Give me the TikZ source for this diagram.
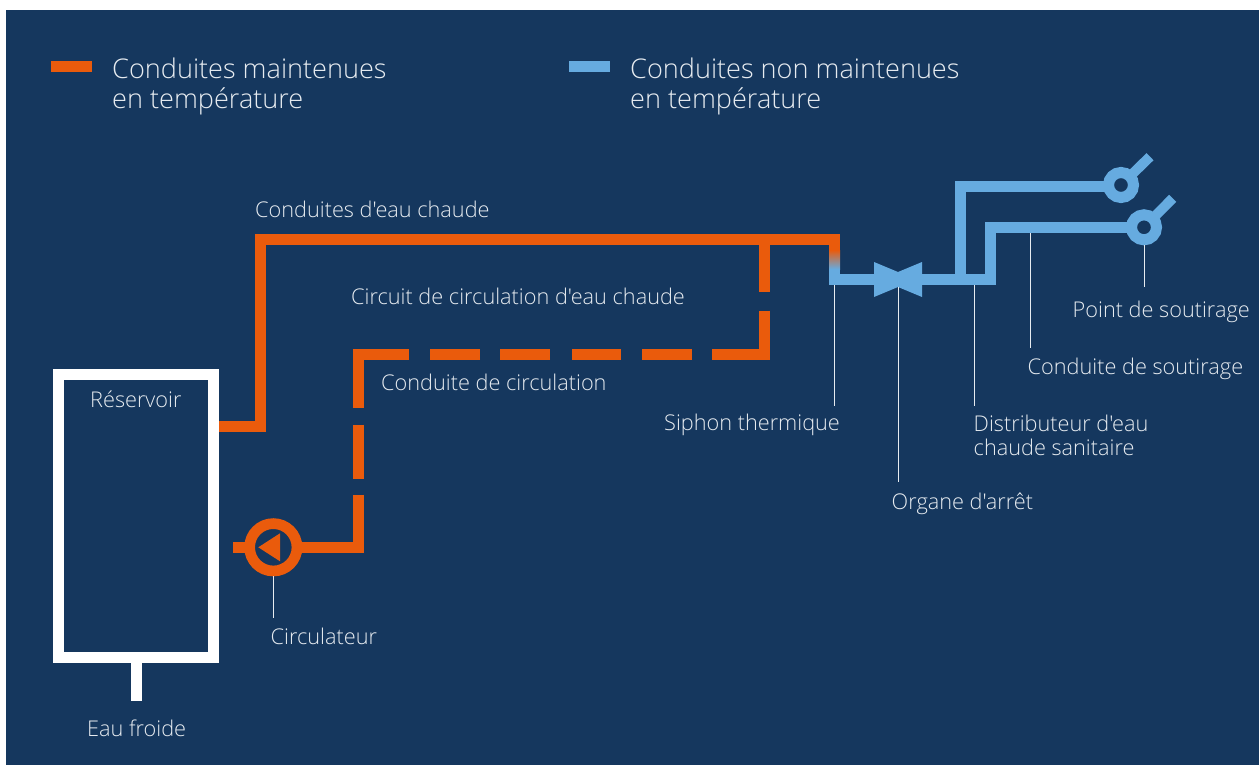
\documentclass[tikz,border=0pt]{standalone}
\usepackage{fontspec}
\setmainfont[Ligatures={NoCommon,TeXOff}]{Open Sans Light}
\definecolor{bgblue}{HTML}{15375E}
\definecolor{hotpipe}{HTML}{EA5B0C}
\definecolor{coldpipe}{HTML}{66ABE0}
\definecolor{labeltext}{HTML}{E6EBF0}
\begin{document}
\begin{tikzpicture}[x=1pt,y=-1pt]
  \newcommand{\pipewidth}[0]{11pt}
  \newcommand{\fontlabel}[0]{\fontsize{21.7}{24}\selectfont}
  \newcommand{\fontlegend}[0]{\fontsize{27.1}{30}\selectfont}

  \tikzstyle{pipe} = [
    line width=\pipewidth,
  ]
  \tikzstyle{hot} = [
    pipe,
    draw=hotpipe,
  ]
  \tikzstyle{cold} = [
    pipe,
    draw=coldpipe,
  ]
  \tikzstyle{leader} = [
    draw=labeltext,
    line width=0.8pt,
  ]
  \tikzstyle{lbl} = [
    text=labeltext,
    font=\fontlabel,
    align=left,
    inner sep=0pt,
    anchor=base west,
    yshift=-1pt,
  ]
  \tikzstyle{legendlbl} = [
    lbl,
    font=\fontlegend,
    anchor=north west,
  ]
  \tikzstyle{legendbar} = [
    minimum width=41pt,
    minimum height=\pipewidth,
    inner sep=0pt,
    anchor=west,
  ]
  \tikzstyle{tap} = [
    circle,
    draw=coldpipe,
    fill=bgblue,
    line width=\pipewidth,
    minimum size=25pt,
    inner sep=0pt,
    outer sep=5.5pt,
  ]

  \useasboundingbox (0,0) rectangle (1259,765);
  \fill[white] (0,0) rectangle (1259,765);
  \fill[bgblue] (6,10) rectangle (1259,765);

  % legend
  \node[legendbar,fill=hotpipe] (barHot) at (51,66.5) {};
  \node[legendlbl] (lgHot) at (112,56.5) {Conduites maintenues\\en température};
  \node[legendbar,fill=coldpipe] (barCold) at (569,66.5) {};
  \node[legendlbl] (lgCold) at (630,56.5) {Conduites non maintenues\\en température};

  % tank
  \node[draw=white,line width=\pipewidth,minimum width=155pt,minimum height=283pt,inner sep=0pt,outer sep=5.5pt] (tank) at (136.3,516.3) {};
  \coordinate (coldEnd) at (136.3,701);
  \draw[pipe,draw=white] (tank.south) -- (coldEnd);
  \node[lbl] (lblTank) at (90,406.7) {Réservoir};
  \node[lbl] (lblCold) at (87,735.7) {Eau froide};

  % hot line
  \coordinate (hotA) at (260,426.3);
  \coordinate (hotB) at (260,239);
  \coordinate (hotC) at (834.5,239);
  \coordinate (hotD) at (834.5,251);
  \draw[hot] (tank.east |- hotA) -- (hotA) -- (hotB) -- (hotC) -- (hotD);
  \shade[top color=hotpipe,bottom color=coldpipe] (829,250) rectangle (840,269);
  \node[lbl] (lblHot) at (255,217) {Conduites d'eau chaude};
  \node[lbl] (lblLoop) at (351,303.3) {Circuit de circulation d'eau chaude};

  % circulation line
  \node[circle,draw=hotpipe,line width=10.7pt,minimum size=47.4pt,inner sep=0pt,outer sep=5.35pt] (pump) at (273.3,547.3) {};
  \fill[hotpipe] (258.3,547.3) -- (280,533.3) -- (280,561.3) -- cycle;
  \coordinate (pumpIn) at (233,547.3);
  \draw[hot,shorten >=-2pt] (pumpIn) -- (pump.west);
  \draw[hot] (764.3,239) -- (764.3,292.3);
  \draw[hot] (764.3,310.7) -- (764.3,354) -- (712.3,354);
  \draw[hot] (692,354) -- (642.3,354);
  \draw[hot] (621,354) -- (571.7,354);
  \draw[hot] (550,354) -- (500.3,354);
  \draw[hot] (480,354) -- (430,354);
  \draw[hot] (409,354) -- (358.7,354) -- (358.7,408);
  \draw[hot] (358.7,424.7) -- (358.7,478.7);
  \draw[hot,shorten >=-2pt] (358.7,494.7) -- (358.7,547.3) -- (pump.east);
  \node[lbl] (lblReturn) at (381,389) {Conduite de circulation};

  % cold line
  \coordinate (valve) at (898,279.5);
  \coordinate (syphon) at (834.5,279.5);
  \coordinate (distrib) at (974,279.5);
  \node[tap] (tapA) at (1121,185) {};
  \node[tap] (tapB) at (1144,227.3) {};
  \coordinate (handleA) at (1150,156.7);
  \coordinate (handleB) at (1172.7,198.3);
  \draw[cold,line width=10pt,shorten <=-2pt] (tapA) -- (handleA);
  \draw[cold,line width=10pt,shorten <=-2pt] (tapB) -- (handleB);
  \draw[cold,shorten >=-2pt] (834.5,269) -- (syphon) -- (valve) -- (990,279.5) -- (990,227.3) -- (tapB.west);
  \draw[cold,shorten >=-2pt] (960,285) -- (960,187) -- (tapA.west |- 960,187);
  \fill[coldpipe] (874,262) -- (898,272) -- (922,262) -- (922,297) -- (898,287) -- (874,297) -- cycle;

  % call-outs
  \coordinate (endPump) at (273.3,618);
  \coordinate (endSyphon) at (834.5,405.7);
  \coordinate (endValve) at (898,481.7);
  \coordinate (endDistrib) at (974,405.7);
  \coordinate (endPipe) at (1030,347.7);
  \coordinate (startPipe) at (1030,233);
  \coordinate (endTap) at (1144,287);
  \draw[leader] (pump.south) -- (endPump);
  \draw[leader] ([yshift=-5.5pt] syphon) -- (endSyphon);
  \draw[leader] ([yshift=-7pt] valve) -- (endValve);
  \draw[leader] ([yshift=-5.5pt] distrib) -- (endDistrib);
  \draw[leader] (startPipe) -- (endPipe);
  \draw[leader] (tapB.south) -- (endTap);

  \node[lbl] (lblPump) at (270.5,643) {Circulateur};
  \node[lbl] (lblSyphon) at (664,429) {Siphon thermique};
  \node[lbl] (lblValve) at (891.5,508) {Organe d'arrêt};
  \node[lbl,anchor=north west] (lblDistrib) at (973.5,414) {Distributeur d'eau\\chaude sanitaire};
  \node[lbl] (lblPipe) at (1027.5,373) {Conduite de soutirage};
  \node[lbl] (lblTap) at (1072.5,316) {Point de soutirage};
\end{tikzpicture}
\end{document}
